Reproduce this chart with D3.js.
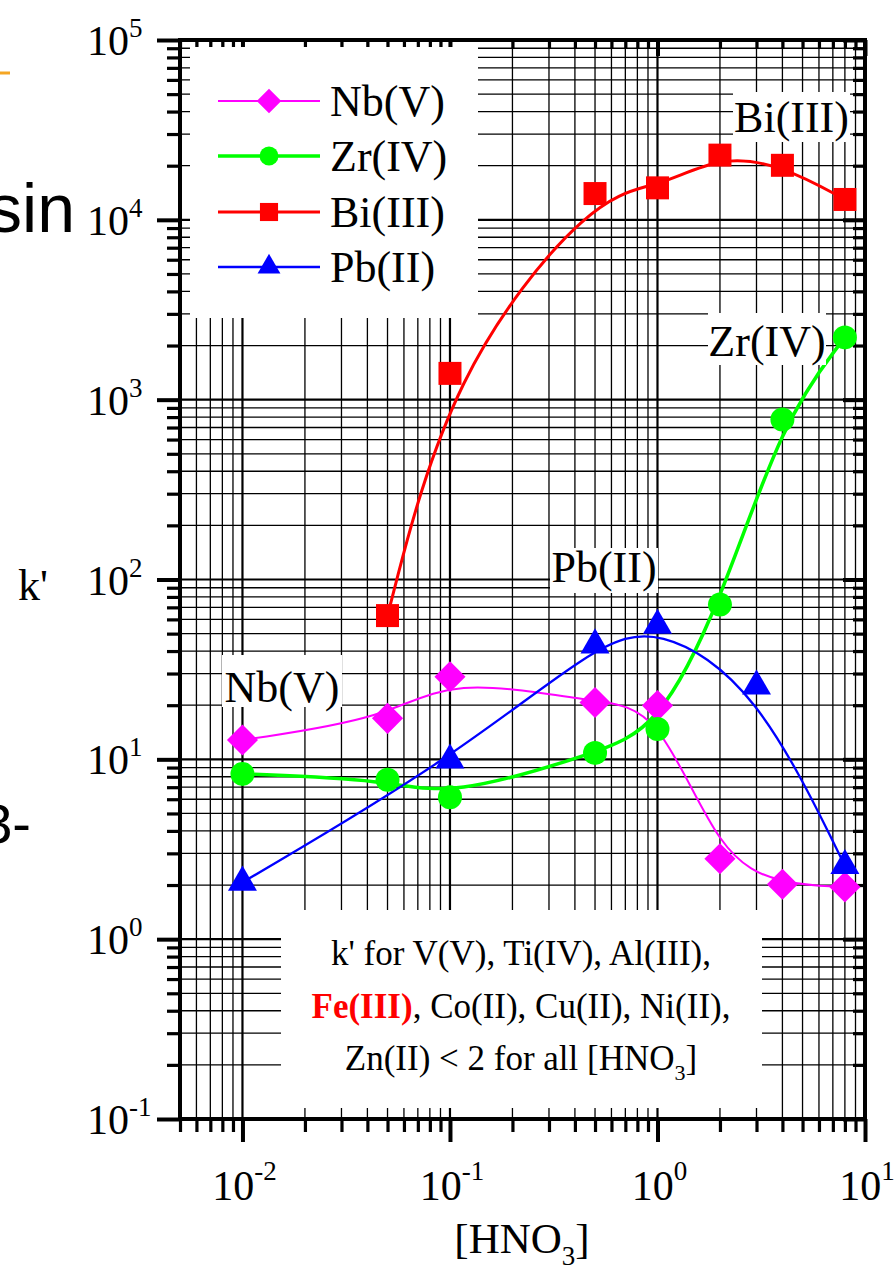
<!DOCTYPE html>
<html>
<head>
<meta charset="utf-8">
<script src="https://cdn.jsdelivr.net/npm/d3@7"></script>
<style>
body{margin:0;background:#fff}
svg{display:block}
</style>
</head>
<body>
<div id="chart"></div>
<script>
// values
var hno3 = [0.01, 0.05, 0.1, 0.5, 1, 2, 4, 8]
var nbK = [12.8, 16.9, 28.8, 20.7, 19.9, 2.8, 2.02, 1.95]
var zrK = [8.3, 7.7, 6.15, 10.85, 14.75, 72.5, 775, 2220]
var biHno3 = [0.05, 0.1, 0.5, 1, 2, 4, 8]
var biK = [63, 1400, 14000, 15060, 22900, 20100, 12980]
var pbHno3 = [0.01, 0.1, 0.5, 1, 3, 8]
var pbK = [2.07, 9.9, 43.2, 55.5, 25.5, 2.56]

var xMajor = [0.01, 0.1, 1, 10]
var xLabels = ["-2", "-1", "0", "1"]
var yMajor = [0.1, 1, 10, 100, 1000, 10000, 100000]
var yLabels = ["-1", "0", "1", "2", "3", "4", "5"]

var seriesNames = ["Nb(V)", "Zr(IV)", "Bi(III)", "Pb(II)"]

var W = 894, H = 1267
var svg = d3.select("#chart").append("svg")
    .attr("width", W).attr("height", H)
    .style("font-family", "'Liberation Serif','Times New Roman',serif")

var x = d3.scaleLog().domain([0.005, 10]).range([180, 865])
var y = d3.scaleLog().domain([0.1, 100000]).range([1119, 40])

var series = [
    {name: seriesNames[0], xs: hno3, ys: nbK, color: "#ff00ff", lw: 2, sym: "diamond"},
    {name: seriesNames[1], xs: hno3, ys: zrK, color: "#00ff00", lw: 3.5, sym: "circle"},
    {name: seriesNames[2], xs: biHno3, ys: biK, color: "#ff0000", lw: 3, sym: "square"},
    {name: seriesNames[3], xs: pbHno3, ys: pbK, color: "#0000ff", lw: 2.3, sym: "triangle"}
]

function isMajor(v){
    var l = Math.log10(v)
    return Math.abs(l - Math.round(l)) < 1e-6
}

// slide leftovers at the left edge
svg.append("line").attr("x1", 0).attr("x2", 10).attr("y1", 73).attr("y2", 73)
    .attr("stroke", "#f5a623").attr("stroke-width", 3)
svg.append("text").attr("x", 75).attr("y", 232).attr("text-anchor", "end")
    .style("font-family", "'Liberation Sans',Arial,sans-serif").style("font-size", "68px").text("sin")
svg.append("text").attr("x", 31).attr("y", 843).attr("text-anchor", "end")
    .style("font-family", "'Liberation Sans',Arial,sans-serif").style("font-size", "56px").text("3-")

// grid
var xt = x.ticks(), yt = y.ticks()
var grid = svg.append("g")
grid.selectAll(".gx").data(xt).enter().append("line")
    .attr("x1", d => x(d)).attr("x2", d => x(d))
    .attr("y1", 40).attr("y2", 1119)
    .attr("stroke", "#000").attr("stroke-width", d => isMajor(d) ? 2.2 : 1.3)
grid.selectAll(".gy").data(yt).enter().append("line")
    .attr("y1", d => y(d)).attr("y2", d => y(d))
    .attr("x1", 180).attr("x2", 865)
    .attr("stroke", "#000").attr("stroke-width", d => isMajor(d) ? 2.2 : 1.3)

// ticks
function ticks(axis, vals, size, tr, w){
    var g = svg.append("g").attr("transform", tr)
        .call(axis.tickValues(vals).tickSize(size).tickFormat(""))
    g.select(".domain").remove()
    g.selectAll("line").attr("stroke", "#000").attr("stroke-width", w)
}
var xMin = xt.filter(d => !isMajor(d)), yMin = yt.filter(d => !isMajor(d))
ticks(d3.axisLeft(y), yMajor, 23, "translate(180,0)", 4)
ticks(d3.axisLeft(y), yMin, 13, "translate(180,0)", 3.2)
ticks(d3.axisBottom(x), xMajor, 23, "translate(0,1119)", 4)
ticks(d3.axisBottom(x), xMin, 13, "translate(0,1119)", 3.2)
ticks(d3.axisRight(y), yMajor, -22, "translate(865,0)", 4)
ticks(d3.axisRight(y), yMin, -12, "translate(865,0)", 3.2)
ticks(d3.axisTop(x), xMajor, -16, "translate(0,40)", 4)
ticks(d3.axisTop(x), xMin, -8, "translate(0,40)", 3.2)

// curves (Origin B-spline look)
var line = d3.line().curve(d3.curveBasis)
series.forEach(function(s){
    svg.append("path")
        .datum(s.xs.map((v, i) => [x(v), y(s.ys[i])]))
        .attr("d", line)
        .attr("fill", "none").attr("stroke", s.color).attr("stroke-width", s.lw)
})

// white boxes covering the grid
function box(x0, y0, x1, y1){
    svg.append("rect").attr("x", x0).attr("y", y0)
        .attr("width", x1 - x0).attr("height", y1 - y0).attr("fill", "#fff")
}
box(190, 47, 478, 318)
box(281, 910, 762, 1108)

// series labels
var labels = [
    {t: "Bi(III)", bx: [733, 92, 850, 142], ty: 132},
    {t: "Zr(IV)", bx: [708, 313, 826, 365], ty: 356},
    {t: "Pb(II)", bx: [550, 548, 658, 593], ty: 582},
    {t: "Nb(V)", bx: [222, 655, 342, 707], ty: 702}
]
labels.forEach(function(l){
    box(l.bx[0], l.bx[1], l.bx[2], l.bx[3])
    svg.append("text").attr("x", (l.bx[0] + l.bx[2]) / 2).attr("y", l.ty)
        .attr("text-anchor", "middle").style("font-size", "44px").text(l.t)
})

// markers
function symbolPath(sym, k){
    if(sym === "diamond") return d3.symbol(d3.symbolSquare, 484 * k)()
    if(sym === "circle") return d3.symbol(d3.symbolCircle, 452 * k)()
    if(sym === "square") return d3.symbol(d3.symbolSquare, 529 * k)()
    return d3.symbol(d3.symbolTriangle, 364 * k)()
}
series.forEach(function(s){
    svg.append("g").selectAll("path").data(s.xs).enter().append("path")
        .attr("d", symbolPath(s.sym, 1))
        .attr("transform", (v, i) => "translate(" + x(v) + "," + y(s.ys[i]) + ")" + (s.sym === "diamond" ? " rotate(45)" : ""))
        .attr("fill", s.color)
})

// legend
var legY = [101, 156, 212, 267]
series.forEach(function(s, i){
    svg.append("line").attr("x1", 218).attr("x2", 320).attr("y1", legY[i]).attr("y2", legY[i])
        .attr("stroke", s.color).attr("stroke-width", s.lw)
    svg.append("path").attr("d", symbolPath(s.sym, 0.62))
        .attr("transform", "translate(269," + legY[i] + ")" + (s.sym === "diamond" ? " rotate(45)" : ""))
        .attr("fill", s.color)
    svg.append("text").attr("x", 330).attr("y", legY[i] + 15)
        .style("font-size", "44px").text(s.name)
})

// frame
svg.append("rect").attr("x", 180).attr("y", 40).attr("width", 685).attr("height", 1079)
    .attr("fill", "none").attr("stroke", "#000").attr("stroke-width", 4)

// tick labels
yMajor.forEach(function(v, i){
    var t = svg.append("text").attr("x", 87).attr("y", y(v) + 15).style("font-size", "42px")
    t.append("tspan").text("10")
    t.append("tspan").attr("dy", -18).style("font-size", "27px").text(yLabels[i])
})
xMajor.forEach(function(v, i){
    var t = svg.append("text").attr("x", x(v) + 2).attr("y", 1200)
        .attr("text-anchor", "middle").style("font-size", "42px")
    t.append("tspan").text("10")
    t.append("tspan").attr("dy", -20).style("font-size", "27px").text(xLabels[i])
})

// axis titles
svg.append("text").attr("x", 18).attr("y", 600).style("font-size", "44px").text("k'")
var xt2 = svg.append("text").attr("x", 522).attr("y", 1253)
    .attr("text-anchor", "middle").style("font-size", "43px")
xt2.append("tspan").text("[HNO")
xt2.append("tspan").attr("dy", 12).style("font-size", "27px").text("3")
xt2.append("tspan").attr("dy", -12).text("]")

// note
var note = svg.append("g").style("font-size", "35px").attr("text-anchor", "middle")
note.append("text").attr("x", 521).attr("y", 965).text("k' for V(V), Ti(IV), Al(III),")
var n2 = note.append("text").attr("x", 521).attr("y", 1018)
n2.append("tspan").attr("fill", "#ff0000").style("font-weight", "bold").text("Fe(III)")
n2.append("tspan").text(", Co(II), Cu(II), Ni(II),")
var n3 = note.append("text").attr("x", 521).attr("y", 1070)
n3.append("tspan").text("Zn(II) < 2 for all [HNO")
n3.append("tspan").attr("dy", 10).style("font-size", "22px").text("3")
n3.append("tspan").attr("dy", -10).text("]")
</script>
</body>
</html>
